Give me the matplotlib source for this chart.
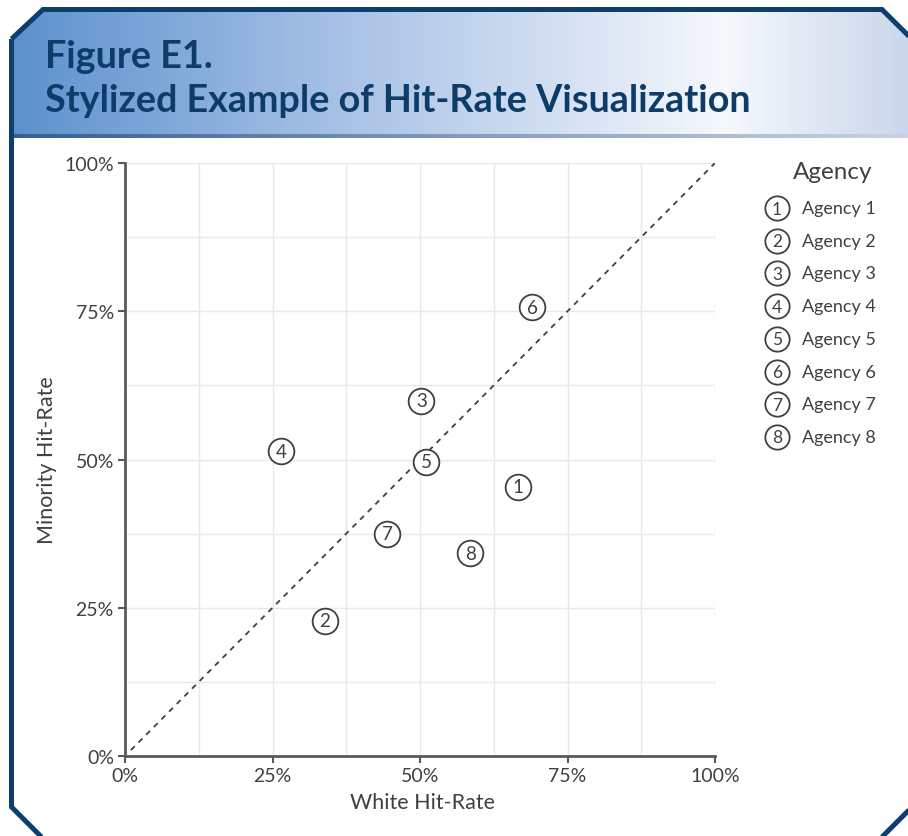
import matplotlib
matplotlib.use("Agg")
import matplotlib.pyplot as plt
import numpy as np
from matplotlib.patches import Polygon
from matplotlib.colors import LinearSegmentedColormap
from matplotlib.ticker import MultipleLocator, PercentFormatter

plt.rcParams['font.family'] = ['Lato', 'DejaVu Sans']

# data
agency_ids = ['1', '2', '3', '4', '5', '6', '7', '8']
agency_names = ['Agency 1', 'Agency 2', 'Agency 3', 'Agency 4',
                'Agency 5', 'Agency 6', 'Agency 7', 'Agency 8']
white_hit_rate = [0.666, 0.339, 0.502, 0.264, 0.510, 0.690, 0.444, 0.585]
minority_hit_rate = [0.454, 0.228, 0.599, 0.514, 0.496, 0.757, 0.375, 0.342]

W, H = 908, 837
TEXT = '#404040'
NAVY = '#0e3e6c'

fig = plt.figure(figsize=(W / 100, H / 100), dpi=100)

# background layer in pixel coordinates (y down)
bg = fig.add_axes([0, 0, 1, 1])
bg.set_xlim(0, W)
bg.set_ylim(H, 0)
bg.axis('off')

frame = [(11.5, 40), (43, 10.5), (882, 10.5), (935, 63), (935, 785),
         (875, 845), (48.5, 845), (11.5, 808)]
clip = Polygon(frame, closed=True, facecolor='none', edgecolor='none')
bg.add_patch(clip)

head_cmap = LinearSegmentedColormap.from_list(
    'head', [(0.0, '#5a90cd'), (0.35, '#a3bee4'), (0.8, '#f6f8fc'), (1.0, '#cbd7ec')])
grad = np.linspace(0, 1, 400)[None, :]
im = bg.imshow(grad, cmap=head_cmap, extent=[0, W, 137, 10], aspect='auto',
               interpolation='bilinear', zorder=1)
im.set_clip_path(clip)

line_cmap = LinearSegmentedColormap.from_list(
    'line', [(0.0, '#2f5f92'), (0.6, '#8ea6c6'), (1.0, '#c9d2e2')])
im2 = bg.imshow(grad, cmap=line_cmap, extent=[0, W, 139, 135.5], aspect='auto',
                interpolation='bilinear', zorder=2)
im2.set_clip_path(clip)

bg.add_patch(Polygon(frame, closed=True, facecolor='none', edgecolor=NAVY,
                     lw=3.6, zorder=3, joinstyle='miter'))

bg.text(45, 68, 'Figure E1.', fontsize=27.2, fontweight='bold', color='#0d3c69',
        va='baseline', ha='left', zorder=4)
bg.text(45, 112, 'Stylized Example of Hit-Rate Visualization', fontsize=27.2,
        fontweight='bold', color='#0d3c69', va='baseline', ha='left', zorder=4)

# legend drawn by hand on the right
bg.text(833, 172, 'Agency', fontsize=17.5, color=TEXT, ha='center', va='center')
for i, (aid, name) in enumerate(zip(agency_ids, agency_names)):
    y = 209 + i * 32.7
    bg.plot(777, y, marker='o', ms=17.5, mfc='white', mec=TEXT, mew=1.3)
    bg.text(777, y + 0.5, aid, fontsize=12.5, color=TEXT, ha='center', va='center')
    bg.text(802, y, name, fontsize=13, color=TEXT, ha='left', va='center')

# main scatter axes
ax = fig.add_axes([125 / W, 1 - 757 / H, 590 / W, 593 / H])
ax.set_facecolor('none')
ax.set_xlim(0, 1)
ax.set_ylim(0, 1)
ax.xaxis.set_major_locator(MultipleLocator(0.25))
ax.yaxis.set_major_locator(MultipleLocator(0.25))
ax.xaxis.set_minor_locator(MultipleLocator(0.125))
ax.yaxis.set_minor_locator(MultipleLocator(0.125))
ax.xaxis.set_major_formatter(PercentFormatter(1.0, decimals=0))
ax.yaxis.set_major_formatter(PercentFormatter(1.0, decimals=0))
ax.grid(True, which='both', color='#e8e8e8', lw=1)
ax.set_axisbelow(True)
for s in ['top', 'right']:
    ax.spines[s].set_visible(False)
for s in ['left', 'bottom']:
    ax.spines[s].set_color('#595959')
    ax.spines[s].set_linewidth(2)
ax.tick_params(which='major', direction='out', length=5, width=1.5, color='#595959',
               labelsize=14, labelcolor=TEXT, pad=3)
ax.tick_params(which='minor', length=0)

ax.plot([0.01, 1], [0.01, 1], color=TEXT, lw=1.3, dashes=(3, 3), zorder=2)

ax.scatter(white_hit_rate, minority_hit_rate, s=18.5 ** 2, facecolor='white',
           edgecolor=TEXT, linewidth=1.3, zorder=3, clip_on=False)
for aid, x, y in zip(agency_ids, white_hit_rate, minority_hit_rate):
    ax.text(x, y, aid, fontsize=13.5, color=TEXT, ha='center', va='center', zorder=4)

fig.text(422 / W, 1 - 803 / H, 'White Hit-Rate', fontsize=15.5, color=TEXT,
         ha='center', va='center')
fig.text(47 / W, 1 - 460 / H, 'Minority Hit-Rate', fontsize=15.5, color=TEXT,
         ha='center', va='center', rotation=90)

fig.savefig('out.png', dpi=100)
